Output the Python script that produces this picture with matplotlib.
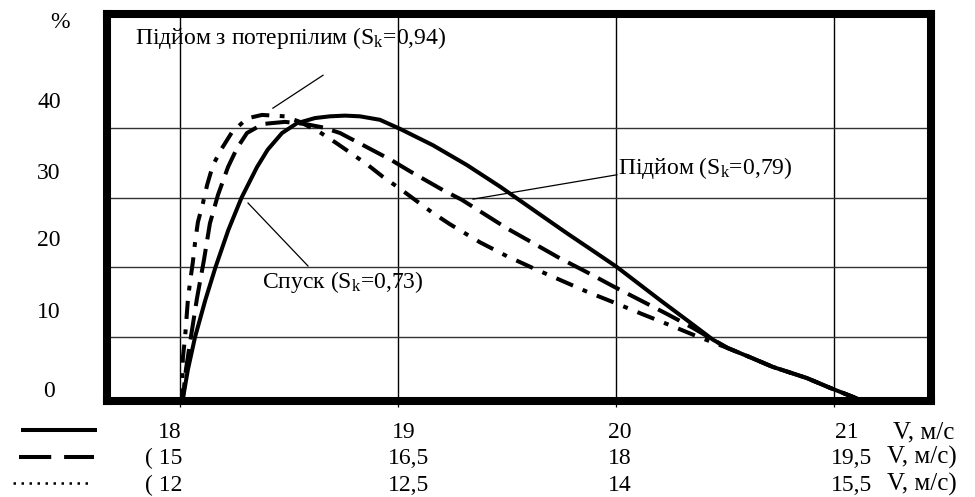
import matplotlib
matplotlib.use("Agg")
import matplotlib.pyplot as plt
from matplotlib.lines import Line2D
from matplotlib.ticker import FixedLocator
import matplotlib.transforms as mtransforms

plt.rcParams['font.family'] = ['Liberation Serif', 'DejaVu Serif']
plt.rcParams['mathtext.fontset'] = 'custom'
plt.rcParams['mathtext.rm'] = 'Liberation Serif'
plt.rcParams['mathtext.it'] = 'Liberation Serif:italic'

# ---- data (x in m/s of first scale, y in %) ----
# tail shared by all three curves
tail_x = [20.511, 20.612, 20.717, 20.873, 20.979, 21.084, 21.163]
tail_y = [8.4, 7.1, 5.7, 4.1, 2.7, 1.4, 0.3]

solid_x = [18.005, 18.034, 18.067, 18.114, 18.161, 18.220, 18.280, 18.351, 18.400, 18.466,
           18.534, 18.617, 18.686, 18.755, 18.823, 18.915, 19.007, 19.158, 19.314, 19.466,
           19.649, 19.773, 19.901, 20.002, 20.200, 20.337, 20.443] + tail_x
solid_y = [0.0, 5.3, 10.0, 15.3, 20.05, 25.4, 30.0, 34.4, 36.9, 39.3,
           40.7, 41.45, 41.7, 41.8, 41.7, 41.2, 39.9, 37.55, 34.7, 31.6,
           27.6, 24.9, 22.2, 20.05, 15.3, 12.1, 9.6] + tail_y

dash_x = [18.007, 18.025, 18.048, 18.076, 18.108, 18.135, 18.172, 18.218, 18.259, 18.305,
          18.378, 18.479, 18.571, 18.654, 18.732, 18.823, 18.968, 19.053, 19.204, 19.291,
          19.498, 19.617, 19.741, 19.865, 19.984, 20.108, 20.232, 20.351, 20.438] + tail_x
dash_y = [0.0, 5.3, 10.0, 15.6, 21.1, 26.3, 30.4, 34.4, 37.1, 39.3,
          40.6, 40.9, 40.6, 40.1, 39.3, 37.8, 35.4, 33.8, 31.1, 29.7,
          25.6, 23.5, 21.3, 19.3, 17.3, 15.3, 13.3, 11.3, 9.7] + tail_y

dd_x = [18.007, 18.011, 18.021, 18.034, 18.044, 18.057, 18.067, 18.080, 18.103, 18.122,
        18.149, 18.190, 18.236, 18.305, 18.374, 18.479, 18.548, 18.640, 18.713, 18.787,
        18.860, 18.929, 19.007, 19.076, 19.154, 19.236, 19.374, 19.498, 19.617, 19.741,
        19.865, 19.993, 20.117, 20.245, 20.369, 20.461] + tail_x
dd_y = [0.0, 7.0, 9.9, 15.3, 17.9, 20.8, 23.6, 26.5, 29.2, 31.8,
        34.7, 37.1, 39.4, 41.4, 41.9, 41.7, 40.9, 39.4, 37.9, 36.3,
        34.7, 33.0, 31.3, 29.7, 27.9, 26.2, 23.6, 21.6, 19.9, 18.2,
        16.5, 14.9, 13.3, 11.7, 10.1, 9.0] + tail_y

grid_y = [10, 20, 30, 40]
ytick_labels = ['0', '10', '20', '30', '40']
ytick_pos = [2.5, 13.9, 24.2, 33.8, 44.1]
grid_x = [18, 19, 20, 21]

row1_labels = ['18', '19', '20', '21', 'V, м/с']
row2_labels = ['( 15', '16,5', '18', '19,5', 'V, м/с)']
row3_labels = ['( 12', '12,5', '14', '15,5', 'V, м/с)']
row1_x = [18.007, 19.025, 20.016, 21.057, 21.268]
row23_x = [18.011, 19.048, 20.016, 21.080, 21.241]

FS = 17

fig = plt.figure(figsize=(9.75, 4.97), dpi=100)
ax = fig.add_axes([107/975, 1-401/497, (931-107)/975, (401-14)/497])
ax.set_xlim(17.663, 21.443)
ax.set_ylim(0.8, 56.4)

for s in ax.spines.values():
    s.set_linewidth(5.8)
    s.set_color('black')

ax.xaxis.set_major_locator(FixedLocator(grid_x))
ax.tick_params(axis='x', which='major', direction='out', length=4.5, width=0.9,
               labelbottom=False, color='black')
ax.grid(axis='x', which='major', color='black', lw=1.0)

ax.set_yticks(ytick_pos, ytick_labels)
ax.yaxis.set_minor_locator(FixedLocator(grid_y))
ax.tick_params(axis='y', which='both', length=0, pad=41.8, labelsize=FS)
for t in ax.get_yticklabels():
    t.set_horizontalalignment('center')
ax.grid(axis='y', which='minor', color='#333333', lw=1.0)
ax.grid(axis='y', which='major', visible=False)
ax.set_axisbelow(True)

lw = 2.9
ax.plot(solid_x, solid_y, color='black', lw=lw, solid_capstyle='butt', solid_joinstyle='round')
ax.plot(dash_x, dash_y, color='black', lw=lw, linestyle=(0, (6, 2.4)), dash_capstyle='butt',
        dash_joinstyle='round')
ax.plot(dd_x, dd_y, color='black', lw=lw, linestyle=(0, (4.5, 2.6, 1.2, 2.6)), dash_capstyle='butt',
        dash_joinstyle='round')

# annotations
ax.text(17.791, 52.06, 'Підйом з потерпілим (S$_{\\mathrm{k}}$=0,94)', fontsize=FS, ha='left', va='baseline')
ax.plot([18.424, 18.654], [42.87, 47.6], color='black', lw=0.9)
ax.plot([18.310, 18.585], [29.24, 20.2], color='black', lw=0.9)
ax.text(18.374, 17.04, 'Спуск (S$_{\\mathrm{k}}$=0,73)', fontsize=FS, ha='left', va='baseline')
ax.plot([19.342, 20.002], [29.8, 33.3], color='black', lw=0.9)
ax.text(20.007, 33.4, 'Підйом (S$_{\\mathrm{k}}$=0,79)', fontsize=FS, ha='left', va='baseline')

fig.text(60/975, 1-22.5/497, '%', fontsize=FS, ha='center', va='center')

# bottom scale rows
trans = mtransforms.blended_transform_factory(ax.transData, fig.transFigure)
has = ['right', 'center', 'center', 'center', 'left']
for labels, xs, ypx in [(row1_labels, row1_x, 438), (row2_labels, row23_x, 464), (row3_labels, row23_x, 491)]:
    for i, (lab, x, ha) in enumerate(zip(labels, xs, has)):
        fs = FS + 1 if i == 4 else FS
        ax.text(x, 1-ypx/497, lab, transform=trans, fontsize=fs, ha=ha, va='baseline', clip_on=False)

# legend samples
fig.add_artist(Line2D([21/975, 97/975], [1-430/497]*2, color='black', lw=2.9, solid_capstyle='butt'))
fig.add_artist(Line2D([19/975, 94/975], [1-457/497]*2, color='black', lw=2.9,
                      linestyle=(0, (8, 3.2)), dash_capstyle='butt'))
fig.add_artist(Line2D([13/975, 88/975], [1-483/497]*2, color='black', lw=1.8,
                      linestyle=(0, (1, 2.2)), dash_capstyle='butt'))

fig.savefig('out.png', dpi=100)
